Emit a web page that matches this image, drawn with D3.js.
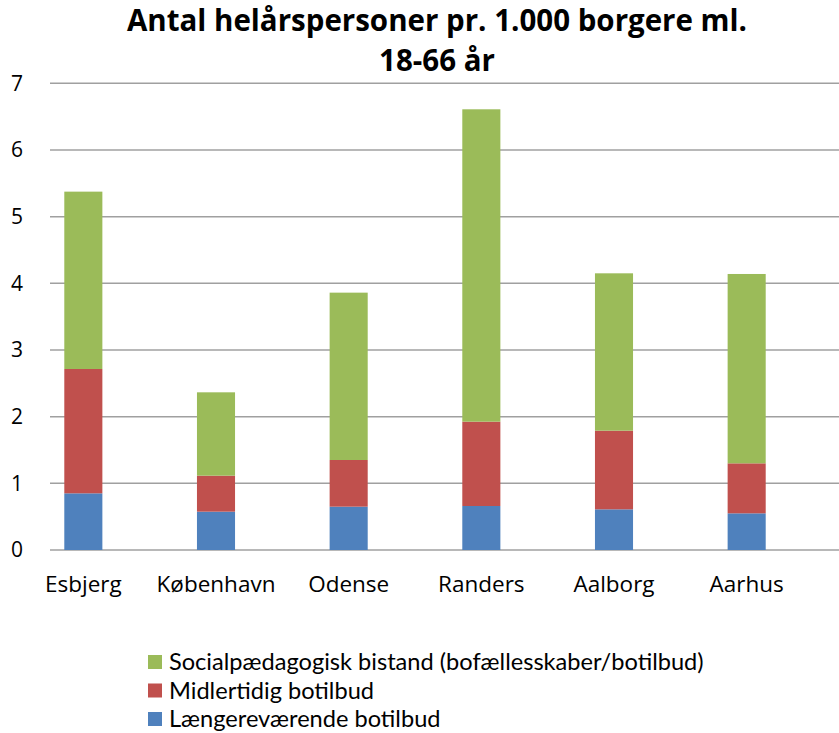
<!DOCTYPE html>
<html>
<head>
<meta charset="utf-8">
<script src="https://cdn.jsdelivr.net/npm/d3@7"></script>
<style>
    body { margin: 0; background: #fff; }
    svg { display: block; font-family: "Open Sans", Lato, sans-serif; }
</style>
</head>
<body>
<div id="chart"></div>
<script>
    // Données
    const kommuner = ["Esbjerg", "København", "Odense", "Randers", "Aalborg", "Aarhus"];
    const laengere = [0.85, 0.575, 0.65, 0.66, 0.61, 0.55];
    const midlertidig = [1.865, 0.54, 0.70, 1.265, 1.18, 0.75];
    const social = [2.66, 1.25, 2.51, 4.685, 2.36, 2.84];
    const yTicks = [0, 1, 2, 3, 4, 5, 6, 7];
    const seriesNames = ["Længereværende botilbud", "Midlertidig botilbud", "Socialpædagogisk bistand (bofællesskaber/botilbud)"];
    const colors = ["#4F81BD", "#C0504D", "#9BBB59"];

    const width = 839, height = 733;

    const svg = d3.select("#chart")
        .append("svg")
        .attr("width", width)
        .attr("height", height);

    const x = d3.scaleBand()
        .domain(kommuner)
        .range([17, 813]);

    const y = d3.scaleLinear()
        .domain([0, 7])
        .range([550, 83.3]);

    // Lignes de grille
    svg.append("g")
        .selectAll("line")
        .data(yTicks)
        .enter()
        .append("line")
        .attr("x1", 50)
        .attr("x2", 839)
        .attr("y1", d => y(d))
        .attr("y2", d => y(d))
        .attr("stroke", "#A0A0A0")
        .attr("stroke-width", 1.5);

    // Axe Y
    const yAxis = svg.append("g")
        .attr("transform", "translate(23,0)")
        .call(d3.axisLeft(y).tickValues(yTicks).tickFormat(d3.format("d")).tickSize(0).tickPadding(0));
    yAxis.select(".domain").remove();
    yAxis.selectAll("text")
        .style("font-size", "21px")
        .style("font-family", "'Open Sans', Lato, sans-serif")
        .attr("fill", "#000");

    // Empilement
    const rows = kommuner.map((k, i) => ({ k: k, v: [laengere[i], midlertidig[i], social[i]] }));
    const stacked = d3.stack()
        .keys([0, 1, 2])
        .value((d, key) => d.v[key])(rows);

    const barW = x.bandwidth() * 0.287;

    svg.append("g")
        .selectAll("g")
        .data(stacked)
        .enter()
        .append("g")
        .attr("fill", (d, i) => colors[i])
        .selectAll("rect")
        .data(d => d)
        .enter()
        .append("rect")
        .attr("x", d => x(d.data.k) + (x.bandwidth() - barW) / 2)
        .attr("y", d => y(d[1]))
        .attr("width", barW)
        .attr("height", d => y(d[0]) - y(d[1]));

    // Axe X
    const xAxis = svg.append("g")
        .attr("transform", "translate(0,560)")
        .call(d3.axisBottom(x).tickSize(0).tickPadding(0));
    xAxis.select(".domain").remove();
    xAxis.selectAll("text")
        .attr("dy", "0")
        .attr("y", 32)
        .style("font-size", "22.5px")
        .style("font-family", "'Open Sans', Lato, sans-serif")
        .attr("fill", "#000");

    // Titre
    svg.append("text")
        .attr("x", 437)
        .attr("y", 31)
        .attr("text-anchor", "middle")
        .style("font-size", "29.5px")
        .style("font-weight", "bold")
        .text("Antal helårspersoner pr. 1.000 borgere ml.");
    svg.append("text")
        .attr("x", 437)
        .attr("y", 71)
        .attr("text-anchor", "middle")
        .style("font-size", "29.5px")
        .style("font-weight", "bold")
        .text("18-66 år");

    // Légende
    const legendOrder = [2, 1, 0];
    const legend = svg.append("g")
        .attr("transform", "translate(148,655)");
    legendOrder.forEach((s, i) => {
        legend.append("rect")
            .attr("x", 0)
            .attr("y", i * 28.5)
            .attr("width", 14)
            .attr("height", 14)
            .attr("fill", colors[s]);
        legend.append("text")
            .attr("x", 21)
            .attr("y", i * 28.5 + 15)
            .text(seriesNames[s])
            .style("font-family", "Lato, 'Open Sans', sans-serif")
            .style("font-size", "23.6px")
            .attr("fill", "#000");
    });
</script>
</body>
</html>
